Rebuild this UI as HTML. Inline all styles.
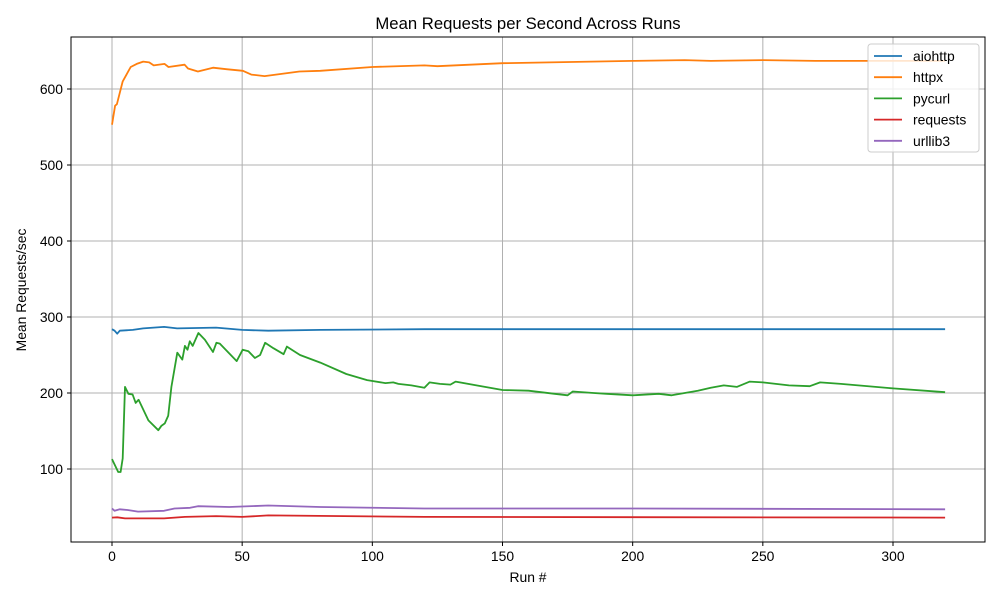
<!DOCTYPE html>
<html><head><meta charset="utf-8"><style>
body{margin:0;background:#fff;}
svg text{font-family:"Liberation Sans","DejaVu Sans",sans-serif;fill:#000;}
</style></head><body>
<svg id="chart" width="1000" height="600" xmlns="http://www.w3.org/2000/svg">
<rect width="1000" height="600" fill="#fff"/>
<g id="grid"></g>
<g id="series"></g>
<rect x="71" y="37" width="914" height="505" fill="none" stroke="#000" stroke-width="1"/>
<g id="axes"></g>
<text x="528" y="29" text-anchor="middle" font-size="16.7">Mean Requests per Second Across Runs</text>
<text x="528" y="582" text-anchor="middle" font-size="13.9">Run #</text>
<text x="26" y="290" text-anchor="middle" font-size="13.9" transform="rotate(-90 26 290)">Mean Requests/sec</text>
<g id="legend"></g>
</svg>
<script>
const seriesNames = ["aiohttp","httpx","pycurl","requests","urllib3"];
const colors = ["#1f77b4","#ff7f0e","#2ca02c","#d62728","#9467bd"];
const xTicks = [0,50,100,150,200,250,300];
const yTicks = [100,200,300,400,500,600];
const aiohttpX = [0,1,2,3,8,12,20,25,40,50,60,80,120,200,320];
const aiohttpY = [284,282,278,282,283,285,287,285,286,283,282,283,284,284,284];
const httpxX = [0,1.2,1.9,4.1,7.2,9.5,12,14.3,16,20.2,21.7,27.9,29.2,33,38.8,43.9,50.3,53.5,58.6,72,80,100,120,125,150,200,220,230,250,270,300,320];
const httpxY = [553,578,580,610,629,633,636,635,631,633,629,632,627,623,628,626,624,619,617,623,624,629,631,630,634,637,638,637,638,637,637,637];
const pycurlX = [0,2.4,3.3,4.1,5,6.3,7.9,9.1,10.2,14,17.8,19,20.3,21.6,22.8,25.1,27,28,29,29.9,31,33.2,35.7,38.8,40.1,41.4,47.9,50.2,52.4,54.9,56.9,58.8,62,65.9,67.2,72.2,80,90,98,105,108,110,115,120,122,126,130,132,140,150,160,170,175,177,185,190,200,210,215,220,225,230,235,240,245,250,260,268,272,280,300,320];
const pycurlY = [113,96,96,114,208,199,198,187,191,164,151,157,160,170,208,253,244,262,257,268,262,279,270,254,266,265,242,257,255,246,250,266,259,251,261,250,240,225,217,213,214,212,210,207,214,212,211,215,210,204,203,199,197,202,200,199,197,199,197,200,203,207,210,208,215,214,210,209,214,212,206,201];
const requestsX = [0,2,5,20,28,40,50,60,120,320];
const requestsY = [36,36.5,35,35,37,38,37,39,37,36];
const urllib3X = [0,1,3,6,10,20,24,30,33,45,60,80,120,200,320];
const urllib3Y = [48,45,47,46,44,45,48,49,51,50,52,50,48,48,47];
const allX = [aiohttpX,httpxX,pycurlX,requestsX,urllib3X];
const allY = [aiohttpY,httpxY,pycurlY,requestsY,urllib3Y];

const NS="http://www.w3.org/2000/svg";
const sx = v => 112 + v*(781/300);
const sy = v => 545 - v*0.76;
function mk(tag, attrs, parent){const e=document.createElementNS(NS,tag);for(const k in attrs)e.setAttribute(k,attrs[k]);parent.appendChild(e);return e;}
const grid=document.getElementById('grid'), axes=document.getElementById('axes'), ser=document.getElementById('series'), leg=document.getElementById('legend');
xTicks.forEach(t=>{
  const g=mk('line',{x1:sx(t),x2:sx(t),y1:37,y2:542,stroke:'#b0b0b0','stroke-width':1},grid);
  
  
  mk('line',{x1:sx(t),x2:sx(t),y1:542,y2:546,stroke:'#000'},axes);
  const tx=mk('text',{x:sx(t),y:561,'text-anchor':'middle','font-size':13.9},axes);
  tx.textContent=t;
  
  
});
yTicks.forEach(t=>{
  const g=mk('line',{x1:71,x2:985,y1:sy(t),y2:sy(t),stroke:'#b0b0b0','stroke-width':1},grid);
  
  
  mk('line',{x1:67,x2:71,y1:sy(t),y2:sy(t),stroke:'#000'},axes);
  const tx=mk('text',{x:63,y:sy(t)+5,'text-anchor':'end','font-size':13.9},axes);
  tx.textContent=t;
  
  
});
seriesNames.forEach((n,i)=>{
  const pts=allX[i].map((x,j)=>sx(x).toFixed(1)+','+sy(allY[i][j]).toFixed(1)).join(' ');
  const p=mk('polyline',{points:pts,fill:'none',stroke:colors[i],'stroke-width':1.8,'stroke-linejoin':'round'},ser);
  
  
});
mk('rect',{x:868,y:44,width:111,height:108,rx:3,fill:'#fff','fill-opacity':0.8,stroke:'#ccc'},leg);
seriesNames.forEach((n,i)=>{
  const y=56+i*21.2;
  const e=mk('g',{},leg);
  
  
  mk('line',{x1:874,x2:902,y1:y,y2:y,stroke:colors[i],'stroke-width':1.8},e);
  const t=mk('text',{x:913,y:y+5,'font-size':13.9},e);
  t.textContent=n;
});
</script>
</body></html>
